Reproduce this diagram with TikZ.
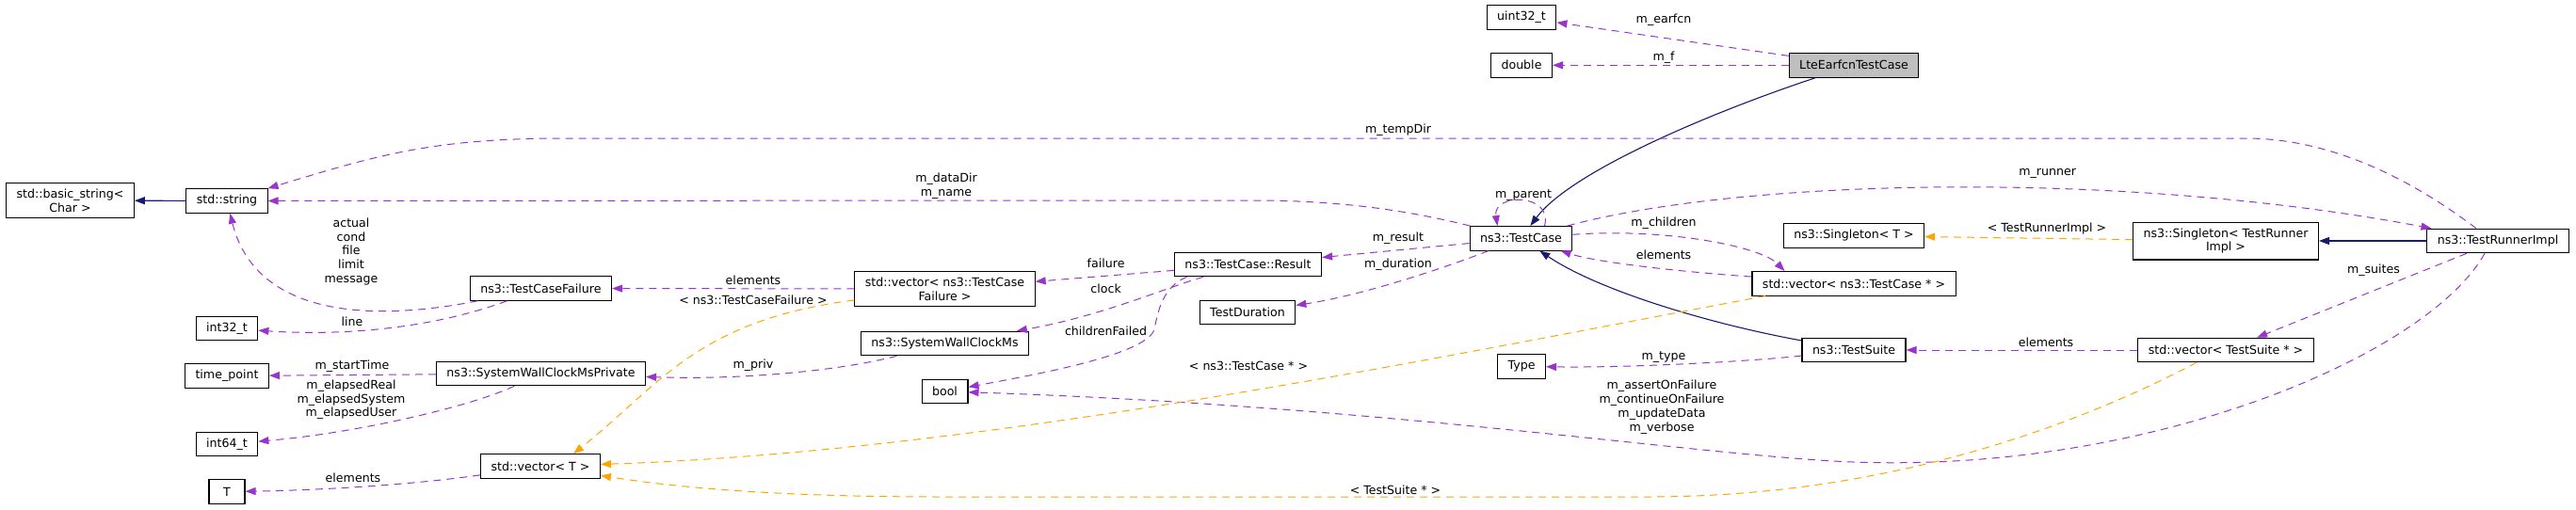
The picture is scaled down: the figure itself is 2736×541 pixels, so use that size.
\documentclass[tikz,border=0pt]{standalone}
\usepackage{fontspec}
\setmainfont{DejaVu Sans}
\usetikzlibrary{arrows.meta}
\usetikzlibrary{calc}
\definecolor{usecol}{HTML}{9A32CD}
\definecolor{tplcol}{HTML}{FFA500}
\definecolor{inhcol}{HTML}{191970}
\definecolor{rootcol}{HTML}{BFBFBF}
\newcommand{\graphfont}{\fontsize{12.6}{14.7}\selectfont}

\begin{document}
\begin{tikzpicture}[x=1pt,y=-1pt]
\tikzstyle{cls}=[draw, line width=1.1pt, fill=white, inner xsep=11pt, inner ysep=5pt, minimum height=25.5pt, align=center, font=\graphfont]
\tikzstyle{lbl}=[align=center, inner sep=0pt, font=\graphfont]
\tikzstyle{usage}=[usecol, line width=1pt, dash pattern=on 8pt off 6pt, -{Triangle[length=11pt,width=8pt]}]
\tikzstyle{tpl}=[usage, tplcol]
\tikzstyle{inherit}=[inhcol, line width=1.1pt, -{Triangle[length=11pt,width=8pt]}]
\useasboundingbox (0,0) rectangle (2736,541);
% classes
\node [cls, inner ysep=6.5pt] (bstr) at (74.5,213) {std::basic\_string<\\Char >};
\node [cls] (str) at (241,213.5) {std::string};
\node [cls] (int32) at (241,349) {int32\_t};
\node [cls] (timept) at (241,399.5) {time\_point};
\node [cls] (int64) at (241,472) {int64\_t};
\node [cls, minimum width=38pt] (tT) at (241,522.5) {T};
\node [cls] (tcf) at (574.5,306.5) {ns3::TestCaseFailure};
\node [cls] (swcp) at (574.5,397) {ns3::SystemWallClockMsPrivate};
\node [cls] (vecT) at (574,495.5) {std::vector< T >};
\node [cls, inner ysep=6.5pt] (vectcf) at (1003.5,307) {std::vector< ns3::TestCase\\Failure >};
\node [cls] (swc) at (1003.5,365) {ns3::SystemWallClockMs};
\node [cls] (bool) at (1003.5,416) {bool};
\node [cls] (result) at (1325.5,281) {ns3::TestCase::Result};
\node [cls] (tdur) at (1325,332) {TestDuration};
\node [cls] (uint32) at (1616,18.5) {uint32\_t};
\node [cls] (dbl) at (1616,69.3) {double};
\node [cls] (tc) at (1615.5,253.3) {ns3::TestCase};
\node [cls] (ttype) at (1616,389.3) {Type};
\node [cls, fill=rootcol] (lte) at (1969,69.3) {LteEarfcnTestCase};
\node [cls] (singT) at (1969,250.5) {ns3::Singleton< T >};
\node [cls] (vectc) at (1969,301.3) {std::vector< ns3::TestCase * >};
\node [cls] (suite) at (1969,372) {ns3::TestSuite};
\node [cls, inner ysep=6.5pt] (singR) at (2364,256) {ns3::Singleton< TestRunner\\Impl >};
\node [cls] (vecsuite) at (2364,372) {std::vector< TestSuite * >};
\node [cls] (runner) at (2653,256) {ns3::TestRunnerImpl};
% inheritance
\draw [inherit] (str) -- (bstr);
\draw [inherit] (lte) .. controls (1830,115) and (1670,180) .. (tc);
\draw [inherit] (suite) .. controls (1820,345) and (1700,310) .. (tc);
\draw [inherit] (runner) -- (singR);
% members
\draw [usage] (lte) -- (uint32);
\draw [usage] (lte) -- (dbl);
\draw [usage] (tc.28) .. controls (1650,205) and (1585,205) .. (tc.152);
\draw [usage] (tc) .. controls (1500,225) and (1430,213) .. (1330,213) -- (str);
\draw [usage] ($(runner.north)+(-23,0)$) .. controls (2580,205) and (2490,147) .. (2385,147) -- (600,147) .. controls (460,147) and (400,165) .. (str);
\draw [usage] (tc) .. controls (1850,190) and (2250,180) .. (runner);
\draw [usage] (tc) -- (result);
\draw [usage] (tc) .. controls (1520,290) and (1440,315) .. (tdur);
\draw [usage] (tc) .. controls (1770,242) and (1870,262) .. ($(vectc.north)+(-73.5,0)$);
\draw [usage] (vectc) .. controls (1800,290) and (1700,280) .. (tc);
\draw [usage] (result) -- (vectcf);
\draw [usage] (result) .. controls (1240,305) and (1170,336) .. (swc);
\draw [usage] ($(result.south)+(-65,0)$) .. controls (1235,305) and (1230,330) .. (1226,350) .. controls (1218,377) and (1100,398) .. (bool);
\draw [usage] (vectcf) -- (tcf);
\draw [usage] (swc) .. controls (900,392) and (800,404) .. (swcp);
\draw [usage] (swcp) -- (timept);
\draw [usage] (swcp) .. controls (500,432) and (380,460) .. (int64);
\draw [usage] (tcf) .. controls (380,345) and (270,330) .. (str);
\draw [usage] (tcf) .. controls (470,345) and (380,358) .. (int32);
\draw [usage] (vecT) .. controls (440,515) and (340,521) .. (tT);
\draw [usage] ($(runner.south)+(-14,0)$) .. controls (2580,375) and (2300,495) .. (2000,491.7) .. controls (1850,492) and (1500,432) .. (bool);
\draw [usage] (runner) -- (vecsuite);
\draw [usage] (vecsuite) -- (suite);
\draw [usage] (suite) .. controls (1850,385) and (1720,391) .. (ttype);
% template instances
\draw [tpl] (vectcf) .. controls (740,340) and (700,410) .. ($(vecT.north)+(35,0)$);
\draw [tpl] ($(vectc.south)+(-94,0)$) .. controls (1550,375) and (1050,480) .. (vecT);
\draw [tpl] ($(vecsuite.south)+(-31,0)$) .. controls (2200,455) and (2000,528) .. (1750,528) -- (1000,528) .. controls (800,528) and (700,515) .. (vecT);
\draw [tpl] (singR) -- (singT);
% labels
\node [lbl] (lEarfcn) at (1767,20.7) {m\_earfcn};
\node [lbl] (lF) at (1767,60.7) {m\_f};
\node [lbl] (lTempDir) at (1485,138.3) {m\_tempDir};
\node [lbl] (lDataDir) at (1005,197.7) {m\_dataDir\\m\_name};
\node [lbl] (lParent) at (1618,207.7) {m\_parent};
\node [lbl] (lRunner) at (2174.6,184.7) {m\_runner};
\node [lbl] (lChildren) at (1767,236.7) {m\_children};
\node [lbl] (lTcElem) at (1767,270.7) {elements};
\node [lbl] (lResult) at (1485,252.7) {m\_result};
\node [lbl] (lDuration) at (1485,281) {m\_duration};
\node [lbl] (lRunnerTpl) at (2174,243.3) {< TestRunnerImpl >};
\node [lbl] (lSuites) at (2521,287.3) {m\_suites};
\node [lbl] (lSuiteElem) at (2173,363.3) {elements};
\node [lbl] (lType) at (1767,380) {m\_type};
\node [lbl] (lFlags) at (1765,432.7) {m\_assertOnFailure\\m\_continueOnFailure\\m\_updateData\\m\_verbose};
\node [lbl] (lTcPtr) at (1326,388.7) {< ns3::TestCase * >};
\node [lbl] (lSuitePtr) at (1482,520.7) {< TestSuite * >};
\node [lbl] (lFailure) at (1174.6,280) {failure};
\node [lbl] (lClock) at (1174.6,307) {clock};
\node [lbl] (lChildFail) at (1174.6,351.7) {childrenFailed};
\node [lbl] (lTcfElem) at (800,298) {elements};
\node [lbl] (lTcfTpl) at (800,319) {< ns3::TestCaseFailure >};
\node [lbl] (lPriv) at (800,387.7) {m\_priv};
\node [lbl] (lStrings) at (373,267.4) {actual\\cond\\file\\limit\\message};
\node [lbl] (lLine) at (374,342) {line};
\node [lbl] (lStart) at (374,389) {m\_startTime};
\node [lbl] (lElapsed) at (373,424.7) {m\_elapsedReal\\m\_elapsedSystem\\m\_elapsedUser};
\node [lbl] (lTElem) at (375,507.7) {elements};
\end{tikzpicture}
\end{document}
